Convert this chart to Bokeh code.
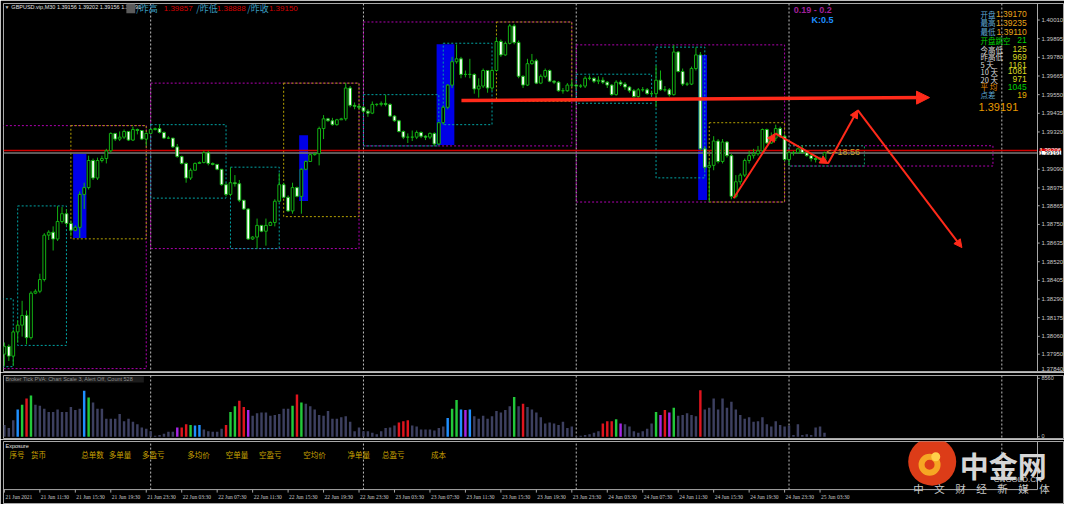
from bokeh.plotting import figure
from bokeh.models import (Range1d, Span, Label, LabelSet, ColumnDataSource, Arrow, NormalHead,
                          BoxAnnotation)
from bokeh.layouts import column
from bokeh.embed import file_html
from bokeh.resources import INLINE

# ---------------- data (GBPUSD M30, bar index 0 = 21 Jun 07:30) ----------------
first_open = 1.37950
closes = [1.37998, 1.37938, 1.38087, 1.38129, 1.38189, 1.38052, 1.38326, 1.38338, 1.38410, 1.38684,
          1.38702, 1.38660, 1.38768, 1.38816, 1.38756, 1.38714, 1.38732, 1.38935, 1.38977, 1.39144,
          1.39036, 1.39144, 1.39156, 1.39204, 1.39311, 1.39276, 1.39288, 1.39323, 1.39270, 1.39335,
          1.39329, 1.39276, 1.39311, 1.39335, 1.39341, 1.39317, 1.39282, 1.39282, 1.39228, 1.39168,
          1.39126, 1.39036, 1.39084, 1.39126, 1.39132, 1.39192, 1.39126, 1.39120, 1.39090, 1.38995,
          1.38935, 1.39007, 1.39001, 1.38899, 1.38845, 1.38660, 1.38672, 1.38744, 1.38708, 1.38744,
          1.38762, 1.38893, 1.38995, 1.38917, 1.38833, 1.38977, 1.38923, 1.39090, 1.39138, 1.39180,
          1.39186, 1.39341, 1.39401, 1.39389, 1.39365, 1.39395, 1.39401, 1.39591, 1.39484, 1.39478,
          1.39472, 1.39448, 1.39436, 1.39490, 1.39490, 1.39496, 1.39490, 1.39418, 1.39389, 1.39323,
          1.39288, 1.39288, 1.39288, 1.39317, 1.39294, 1.39288, 1.39311, 1.39246, 1.39377, 1.39472,
          1.39609, 1.39753, 1.39771, 1.39675, 1.39675, 1.39675, 1.39585, 1.39603, 1.39699, 1.39591,
          1.39699, 1.39878, 1.39795, 1.39866, 1.39974, 1.39872, 1.39663, 1.39609, 1.39741, 1.39759,
          1.39621, 1.39663, 1.39699, 1.39633, 1.39627, 1.39574, 1.39574, 1.39609, 1.39609, 1.39603,
          1.39603, 1.39651, 1.39651, 1.39633, 1.39639, 1.39627, 1.39609, 1.39550, 1.39627, 1.39615,
          1.39597, 1.39574, 1.39538, 1.39580, 1.39580, 1.39556, 1.39556, 1.39639, 1.39580, 1.39580,
          1.39550, 1.39813, 1.39693, 1.39615, 1.39615, 1.39711, 1.39795, 1.39216, 1.39102, 1.39114,
          1.39264, 1.39138, 1.39258, 1.39174, 1.38923, 1.39013, 1.39054, 1.39144, 1.39174, 1.39186,
          1.39204, 1.39335, 1.39252, 1.39282, 1.39341, 1.39294, 1.39150, 1.39192, 1.39192, 1.39216,
          1.39192, 1.39174, 1.39156, 1.39150, 1.39150, 1.39191]
highs = [1.38022, 1.38010, 1.38099, 1.38159, 1.38279, 1.38219, 1.38338, 1.38350, 1.38446, 1.38696,
         1.38714, 1.38738, 1.38863, 1.38857, 1.38845, 1.38774, 1.38744, 1.38953, 1.39007, 1.39174,
         1.39156, 1.39162, 1.39174, 1.39216, 1.39317, 1.39305, 1.39323, 1.39335, 1.39323, 1.39353,
         1.39341, 1.39311, 1.39317, 1.39341, 1.39347, 1.39365, 1.39323, 1.39294, 1.39282, 1.39246,
         1.39174, 1.39132, 1.39096, 1.39132, 1.39138, 1.39204, 1.39204, 1.39132, 1.39120, 1.39090,
         1.39007, 1.39102, 1.39054, 1.39024, 1.38899, 1.38851, 1.38678, 1.38786, 1.38744, 1.38786,
         1.38768, 1.38905, 1.39066, 1.39007, 1.38929, 1.39007, 1.38983, 1.39096, 1.39144, 1.39186,
         1.39192, 1.39353, 1.39424, 1.39407, 1.39407, 1.39401, 1.39407, 1.39621, 1.39603, 1.39502,
         1.39490, 1.39478, 1.39460, 1.39508, 1.39496, 1.39508, 1.39550, 1.39496, 1.39424, 1.39395,
         1.39329, 1.39311, 1.39329, 1.39329, 1.39323, 1.39300, 1.39317, 1.39317, 1.39383, 1.39484,
         1.39615, 1.39783, 1.39860, 1.39783, 1.39699, 1.39771, 1.39681, 1.39651, 1.39711, 1.39699,
         1.39711, 1.39902, 1.39890, 1.39878, 1.39986, 1.39986, 1.39884, 1.39669, 1.39771, 1.39801,
         1.39771, 1.39675, 1.39711, 1.39705, 1.39639, 1.39633, 1.39591, 1.39621, 1.39639, 1.39615,
         1.39615, 1.39663, 1.39669, 1.39657, 1.39663, 1.39657, 1.39633, 1.39615, 1.39639, 1.39639,
         1.39627, 1.39603, 1.39585, 1.39591, 1.39597, 1.39591, 1.39574, 1.39729, 1.39699, 1.39603,
         1.39591, 1.39857, 1.39819, 1.39711, 1.39627, 1.39723, 1.39842, 1.39813, 1.39234, 1.39144,
         1.39294, 1.39276, 1.39276, 1.39264, 1.39186, 1.39054, 1.39066, 1.39156, 1.39204, 1.39216,
         1.39234, 1.39341, 1.39341, 1.39317, 1.39365, 1.39353, 1.39305, 1.39204, 1.39204, 1.39222,
         1.39235, 1.39204, 1.39186, 1.39168, 1.39168, 1.39198]
lows = [1.37878, 1.37908, 1.37878, 1.38022, 1.38058, 1.38010, 1.38040, 1.38320, 1.38326, 1.38398,
        1.38654, 1.38589, 1.38648, 1.38756, 1.38738, 1.38678, 1.38708, 1.38666, 1.38845, 1.38965,
        1.39024, 1.39024, 1.39132, 1.39126, 1.39192, 1.39264, 1.39264, 1.39276, 1.39264, 1.39264,
        1.39305, 1.39270, 1.39234, 1.39311, 1.39329, 1.39311, 1.39276, 1.39276, 1.39222, 1.39162,
        1.39120, 1.39007, 1.39024, 1.39084, 1.39126, 1.39126, 1.39114, 1.39114, 1.39084, 1.38989,
        1.38923, 1.38923, 1.38983, 1.38887, 1.38839, 1.38654, 1.38654, 1.38601, 1.38702, 1.38619,
        1.38744, 1.38738, 1.38887, 1.38911, 1.38827, 1.38816, 1.38917, 1.38816, 1.39084, 1.39138,
        1.39174, 1.39114, 1.39276, 1.39383, 1.39359, 1.39359, 1.39395, 1.39389, 1.39472, 1.39460,
        1.39460, 1.39436, 1.39413, 1.39430, 1.39478, 1.39478, 1.39478, 1.39413, 1.39383, 1.39317,
        1.39276, 1.39252, 1.39264, 1.39276, 1.39282, 1.39270, 1.39276, 1.39234, 1.39240, 1.39365,
        1.39460, 1.39591, 1.39741, 1.39651, 1.39657, 1.39651, 1.39556, 1.39532, 1.39591, 1.39562,
        1.39574, 1.39693, 1.39783, 1.39789, 1.39860, 1.39860, 1.39651, 1.39591, 1.39603, 1.39735,
        1.39615, 1.39615, 1.39651, 1.39627, 1.39615, 1.39568, 1.39556, 1.39568, 1.39597, 1.39585,
        1.39591, 1.39591, 1.39639, 1.39621, 1.39615, 1.39615, 1.39591, 1.39544, 1.39544, 1.39603,
        1.39580, 1.39562, 1.39532, 1.39532, 1.39568, 1.39550, 1.39544, 1.39472, 1.39574, 1.39568,
        1.39538, 1.39544, 1.39687, 1.39603, 1.39603, 1.39609, 1.39699, 1.39204, 1.39084, 1.38888,
        1.39084, 1.39126, 1.39126, 1.39162, 1.38905, 1.38911, 1.38995, 1.39042, 1.39126, 1.39156,
        1.39174, 1.39186, 1.39246, 1.39246, 1.39264, 1.39282, 1.39138, 1.39110, 1.39174, 1.39186,
        1.39186, 1.39168, 1.39138, 1.39132, 1.39144, 1.39144]

volumes = [1729, 1274, 2412, 4004, 4687, 5597, 6052, 4687, 4550, 4095,
           3640, 3640, 4004, 3640, 3640, 4368, 3913, 4095, 6734, 5733,
           5005, 4095, 4095, 2639, 2639, 2639, 3322, 2275, 2639, 2184,
           1820, 1365, 1183, 819, 137, 273, 455, 728, 728, 1365,
           1365, 1820, 1729, 1638, 1729, 1047, 819, 728, 728, 1183,
           1729, 3640, 4459, 5278, 4368, 3913, 3094, 3458, 3549, 3549,
           3094, 3185, 3322, 4095, 4095, 4550, 6188, 5005, 4823, 4459,
           4004, 3185, 3094, 3777, 2639, 2639, 2867, 3003, 2184, 819,
           1365, 819, 819, 592, 364, 819, 1274, 1365, 1638, 2093,
           2275, 2412, 1638, 1502, 1047, 1047, 1047, 910, 1274, 1502,
           2730, 4095, 5369, 4004, 3913, 4004, 3003, 2639, 3094, 2639,
           3003, 3777, 3549, 3913, 4459, 5824, 4459, 4823, 4368, 4004,
           3549, 2867, 1957, 2093, 1957, 1729, 2184, 1274, 1502, 90,
           140, 273, 364, 592, 819, 1957, 2275, 2275, 2548, 1957,
           1820, 1502, 819, 592, 819, 1183, 1957, 3640, 3185, 3913,
           3549, 4232, 3094, 3185, 3458, 3185, 3003, 6825, 4004, 4232,
           5597, 4004, 5597, 4232, 5142, 4004, 3185, 2639, 2867, 2184,
           2275, 2867, 1820, 1502, 2275, 1729, 1502, 1638, 273, 1820,
           273, 364, 273, 1365, 1502, 592]
vol_blue = [3, 18, 43, 44, 100, 103, 105]
vol_green = [4, 6, 19, 42, 51, 52, 65, 67, 101, 102, 115, 138, 147, 151]
vol_red = [5, 40, 41, 50, 53, 54, 66, 89, 90, 91, 117, 135, 136, 137, 149, 157]
vol_purple = [39, 55, 104, 139, 148, 150]

# daily ranges (magenta), Asia/Europe sessions (cyan), US sessions (yellow)
day_start = [-15, 33, 81, 129, 177]
day_end = [32, 80, 128, 176, 223]
day_high = [1.39359, 1.39621, 1.39998, 1.39857, 1.39235]
day_low = [1.37861, 1.38601, 1.39234, 1.38888, 1.39110]
cyan_start = [-15, 3, 33, 51, 81, 99, 129, 147]
cyan_end = [2, 14, 50, 62, 98, 110, 146, 158]
cyan_high = [1.38291, 1.38864, 1.39365, 1.39103, 1.39550, 1.39867, 1.39676, 1.39843]
cyan_low = [1.37873, 1.38004, 1.38912, 1.38601, 1.39234, 1.39365, 1.39497, 1.39037]
asia_today = [177, 194, 1.39235, 1.39110]
us_start = [15, 63, 111, 159]
us_end = [32, 80, 128, 176]
us_high = [1.39359, 1.39621, 1.39998, 1.39377]
us_low = [1.38661, 1.38798, 1.39509, 1.38888]
blue_left = [15.5, 66.5, 97.5, 156.5]
blue_right = [18.5, 68.5, 101.5, 158.5]
blue_top = [1.39186, 1.39300, 1.39861, 1.39795]
blue_bottom = [1.38667, 1.38894, 1.39240, 1.38900]

day_separators = [33, 81, 129, 177, 225]
bid_price = 1.39191
red_level = 1.39206
arrow_x = [103.1, 208.7]
arrow_y = [1.39514, 1.39532]
zigzag_x = [164.5, 173.9, 185.8, 192.5, 216.0]
zigzag_y = [1.38911, 1.39311, 1.39126, 1.39455, 1.38607]

price_ticks = [1.40010, 1.39895, 1.39780, 1.39665, 1.39550, 1.39435, 1.39320, 1.39090, 1.38975,
               1.38865, 1.38750, 1.38635, 1.38520, 1.38405, 1.38290, 1.38175, 1.38060, 1.37950, 1.37840]
vol_ticks = [0, 8560]
time_tick_bars = [0, 8, 16, 24, 32, 40, 48, 56, 64, 72, 80, 88, 96, 104, 112, 120, 128,
                  136, 144, 152, 160, 168, 176, 184]
time_labels = ["21 Jun 2021", "21 Jun 11:30", "21 Jun 15:30", "21 Jun 19:30", "21 Jun 23:30",
               "22 Jun 03:30", "22 Jun 07:30", "22 Jun 11:30", "22 Jun 15:30", "22 Jun 19:30",
               "22 Jun 23:30", "23 Jun 03:30", "23 Jun 07:30", "23 Jun 11:30", "23 Jun 15:30",
               "23 Jun 19:30", "23 Jun 23:30", "24 Jun 03:30", "24 Jun 07:30", "24 Jun 11:30",
               "24 Jun 15:30", "24 Jun 19:30", "24 Jun 23:30", "25 Jun 03:30"]

info_labels = ["开盘", "最高", "最低", "开盘跳空", "今高低", "昨高低", "5    天", "10  天", "20  天", "平    均", "点差"]
info_values = ["1.39170", "1.39235", "1.39110", "21", "125", "969", "1161", "1081", "971", "1045", "19"]
exposure_cols = ["序号", "货币", "总单数", "多单量", "多盈亏", "多均价", "空单量", "空盈亏", "空均价", "净单量", "总盈亏", "成本"]

# ---------------- layout helpers ----------------
PLOT_W = 1034            # width of the price area (bars -0.2 .. 233.05)
FULL_W = 1061            # frame incl. the price-scale column
X0, AXIS_X = -0.2, 233.05
X1 = X0 + (AXIS_X - X0) * FULL_W / PLOT_W
MAIN_H, VOL_H, EXP_H = 369, 64, 63
LAT = "Liberation Sans"
CJK = "Noto Sans CJK SC"
GREEN = "#12b012"
GRAY = "#a8a8a8"


def sx(x):   # reference-pixel x -> frame screen x
    return (x - 3.0) * PLOT_W / 1052.0


def my(y):
    return (384.0 - y) * MAIN_H / 381.0


def vy(y):
    return (453.0 - y) * VOL_H / 66.0


def ey(y):
    return (520.5 - y) * EXP_H / 65.5


def T(fig, x, y, text, size, color, font=LAT, align="left", bold=False, bg=None,
      xu="screen", yu="screen", baseline="middle", xoff=0, yoff=0):
    kw = dict(x=x, y=y, x_units=xu, y_units=yu, text=text, text_font_size=f"{size}px",
              text_color=color, text_font=font, text_align=align, text_baseline=baseline,
              text_font_style="bold" if bold else "normal", x_offset=xoff, y_offset=yoff)
    if bg is not None:
        kw["background_fill_color"] = bg
    fig.add_layout(Label(**kw))


xr = Range1d(X0, X1)


def base_fig(h, yr, top, spans=True):
    f = figure(frame_width=FULL_W, frame_height=h, x_range=xr, y_range=yr, output_backend="svg",
               toolbar_location=None, x_axis_location=None, y_axis_location=None,
               min_border_left=3, min_border_right=0, min_border_top=top, min_border_bottom=0,
               background_fill_color="black", border_fill_color="black",
               outline_line_color=GRAY, outline_line_width=1)
    f.grid.visible = False
    if spans:
        for d in day_separators:
            f.add_layout(Span(location=d, dimension="height", line_color="#bdbdbd",
                              line_dash="2 2", line_width=1, level="underlay"))
        f.add_layout(Span(location=AXIS_X, dimension="height", line_color=GRAY, line_width=1))
    return f


def price_scale(fig, ticks, labels, size, edge_px):
    """Tick marks + labels of the price-scale column; labels at the very bottom edge are lifted
    so that they stay inside the panel."""
    n_t = len(ticks)
    fig.segment(x0=[AXIS_X] * n_t, x1=[AXIS_X + 0.5] * n_t, y0=ticks, y1=ticks, line_color=GRAY)
    for t, s in zip(ticks, labels):
        lift = max(0.0, edge_px - (t - fig.y_range.start) * fig.frame_height / (fig.y_range.end - fig.y_range.start))
        T(fig, AXIS_X, t, s, size, "#c8c8c8", xu="data", yu="data", xoff=4, yoff=lift)


# ---------------- main price panel ----------------
p = base_fig(MAIN_H, Range1d(1.37837, 1.40112), 3)

p.quad(left=blue_left, right=blue_right, top=blue_top, bottom=blue_bottom,
       fill_color="#0000e6", line_color=None)
p.quad(left=day_start, right=day_end, top=day_high, bottom=day_low, fill_color=None,
       line_color="#b000b0", line_dash="2 2", line_width=1)
p.quad(left=cyan_start, right=cyan_end, top=cyan_high, bottom=cyan_low, fill_color=None,
       line_color="#00a3a3", line_dash="2 2", line_width=1)
p.quad(left=[asia_today[0]], right=[asia_today[1]], top=[asia_today[2]], bottom=[asia_today[3]],
       fill_color=None, line_color="#009a66", line_dash="2 2", line_width=1)
p.quad(left=us_start, right=us_end, top=us_high, bottom=us_low, fill_color=None,
       line_color="#b4a000", line_dash="2 2", line_width=1)

p.segment(x0=[X0, X0], x1=[AXIS_X, AXIS_X], y0=[red_level, bid_price], y1=[red_level, bid_price],
          line_color=["#d00000", "#7a7a7a"], line_width=1.5)

n = min(len(closes), len(highs), len(lows))
idx = list(range(n))
opens = [first_open] + closes[:n - 1]   # FX M30 bars open at the previous close
up = [i for i in idx if closes[i] >= opens[i]]
dn = [i for i in idx if closes[i] < opens[i]]
p.segment(x0=idx, y0=highs[:n], x1=idx, y1=lows[:n], line_color=GREEN, line_width=1)
p.vbar(x=up, bottom=[opens[i] for i in up], top=[closes[i] for i in up], width=0.62,
       fill_color="black", line_color=GREEN, line_width=1)
p.vbar(x=dn, bottom=[closes[i] for i in dn], top=[opens[i] for i in dn], width=0.62,
       fill_color="white", line_color=GREEN, line_width=1)

RED = "#ff2a1a"
p.add_layout(Arrow(x_start=arrow_x[0], y_start=arrow_y[0], x_end=arrow_x[1], y_end=arrow_y[1],
                   line_color=RED, line_width=3.5,
                   end=NormalHead(size=13, fill_color=RED, line_color=RED)))
for i in range(len(zigzag_x) - 1):
    p.add_layout(Arrow(x_start=zigzag_x[i], y_start=zigzag_y[i], x_end=zigzag_x[i + 1], y_end=zigzag_y[i + 1],
                       line_color=RED, line_width=2,
                       end=NormalHead(size=8, fill_color=RED, line_color=RED)))

price_scale(p, price_ticks, [f"{t:.5f}" for t in price_ticks], 6, 4)
T(p, AXIS_X, red_level, f"{red_level:.5f}", 6, "white", bg="#e00000", xu="data", yu="data", xoff=2)
T(p, AXIS_X, bid_price, f"{bid_price:.5f}", 6, "black", bg="white", xu="data", yu="data", xoff=2)

# header
T(p, sx(4), my(7), "▼", 5, "#c0c0c0")
T(p, sx(11), my(7), "GBPUSD.vip,M30  1.39156 1.39202 1.39156 1.39191", 5.5, "#e0e0e0")
p.add_layout(BoxAnnotation(left=sx(128), right=sx(137), top=my(3), bottom=my(13),
                           left_units="screen", right_units="screen", top_units="screen",
                           bottom_units="screen", fill_color="#5c5c5c", fill_alpha=1, line_color=None))
for lx, lab, vx_, val in [(138, "/昨高", 166, "1.39857"), (199, "/昨低", 220, "1.38888"),
                          (251, "/昨收", 273, "1.39150")]:
    T(p, sx(lx), my(8), lab, 9, "#3a9ec0", font=CJK)
    T(p, sx(vx_), my(8), val, 8, "#d40000")

T(p, sx(807), my(10), "0.19 - 0.2", 9, "#a0209a", bold=True)
T(p, sx(825), my(20), "K:0.5", 9, "#1e8fff", bold=True)
T(p, sx(843), my(3), "▼", 6, "#a0a0a0", align="center")

# info panel
rows_y = [14, 23, 32, 41, 50, 58, 66, 73, 81, 89, 97]
lab_col = ["#5fa8d3"] * 3 + ["#00d000"] + ["#d8d8d8"] * 5 + ["#e08a00"] + ["#5fa8d3"]
val_col = ["#e8a317"] * 3 + ["#00d000"] + ["#d8d820"] * 5 + ["#00d000"] + ["#e8b000"]
for ry, lab, val, lc, vc in zip(rows_y, info_labels, info_values, lab_col, val_col):
    T(p, sx(997), my(ry), lab, 7.5, lc, font=CJK)
    T(p, sx(1044), my(ry), val, 8.5, vc, align="right")
T(p, sx(995), my(110), "1.39191", 11, "#e89a00")

T(p, 185.4, 1.39198, "<--18:56", 9, "#c8a02a", xu="data", yu="data")

# ---------------- volume panel ----------------
pv = base_fig(VOL_H, Range1d(-400, 8970), 3)
nv = len(volumes)
vcol = ["#3d4060"] * nv
for lst, c in [(vol_blue, "#1f8fff"), (vol_green, "#22c93a"), (vol_red, "#e0141e"), (vol_purple, "#a526e6")]:
    for i in lst:
        if i < nv:
            vcol[i] = c
vsrc = ColumnDataSource(dict(x=list(range(nv)), v=volumes, c=vcol))
pv.vbar(x="x", top="v", bottom=0, width=0.55, fill_color="c", line_color=None, source=vsrc)
price_scale(pv, vol_ticks, [str(v) for v in vol_ticks], 5.5, 4)
T(pv, sx(5), vy(391), "Broker Tick PVA:    Chart Scale  3,  Alert Off,  Count  528", 5.5, "#8c8c8c",
  bg="#1c1c1c")

# ---------------- exposure panel + time scale ----------------
pe = base_fig(EXP_H, Range1d(0, EXP_H), 2, spans=False)
AX_Y = ey(505)
nd = len(day_separators)
pe.segment(x0=day_separators, x1=day_separators, y0=[AX_Y] * nd, y1=[EXP_H] * nd,
           line_color="#bdbdbd", line_dash="2 2", line_width=1)
pe.segment(x0=[AXIS_X, X0], x1=[AXIS_X, AXIS_X], y0=[AX_Y, AX_Y], y1=[EXP_H, AX_Y],
           line_color=GRAY, line_width=1)
nt = len(time_tick_bars)
pe.segment(x0=time_tick_bars, x1=time_tick_bars, y0=[AX_Y] * nt, y1=[AX_Y - 3] * nt, line_color=GRAY)
tsrc = ColumnDataSource(dict(x=time_tick_bars, t=time_labels))
pe.add_layout(LabelSet(x="x", y=ey(513), text="t", source=tsrc, x_offset=1,
                       text_font_size="5.5px", text_color="#c8c8c8", text_font=LAT,
                       text_align="left", text_baseline="middle"))

T(pe, sx(5), ey(460), "Exposure", 5.5, "#e8e8e8")
col_x = [9, 31, 82, 110, 144, 190, 229, 263, 308, 353, 388, 438]
for cx, name in zip(col_x, exposure_cols):
    T(pe, sx(cx), ey(469), name, 7.5, "#c8a000", font=CJK)

# watermark logo
LOGO_X, LOGO_Y = 209.3, ey(476)
pe.scatter(x=[LOGO_X], y=[LOGO_Y], size=48, marker="circle", fill_color="#dc3c18", line_color=None)
pe.annulus(x=[LOGO_X - 0.6], y=[LOGO_Y - 3], inner_radius=5, outer_radius=11,
           inner_radius_units="screen", outer_radius_units="screen", fill_color="#f6a623", line_color=None)
pe.scatter(x=[LOGO_X + 0.8], y=[LOGO_Y + 5], size=9, marker="circle", fill_color="#ffd04a", line_color=None)
T(pe, sx(976), ey(479), "中金网", 29, "#d6d6d6", font=CJK, bold=True)
T(pe, sx(1035), ey(494), "CNGOLD.CN", 8, "#d0d0d0", align="center")
T(pe, sx(998), ey(504), "中　文　财　经　新　媒　体", 10.5, "#c8c8c8", font=CJK, align="center")

layout = column(p, pv, pe, spacing=0)
open("out.html", "w").write(file_html(layout, INLINE))
